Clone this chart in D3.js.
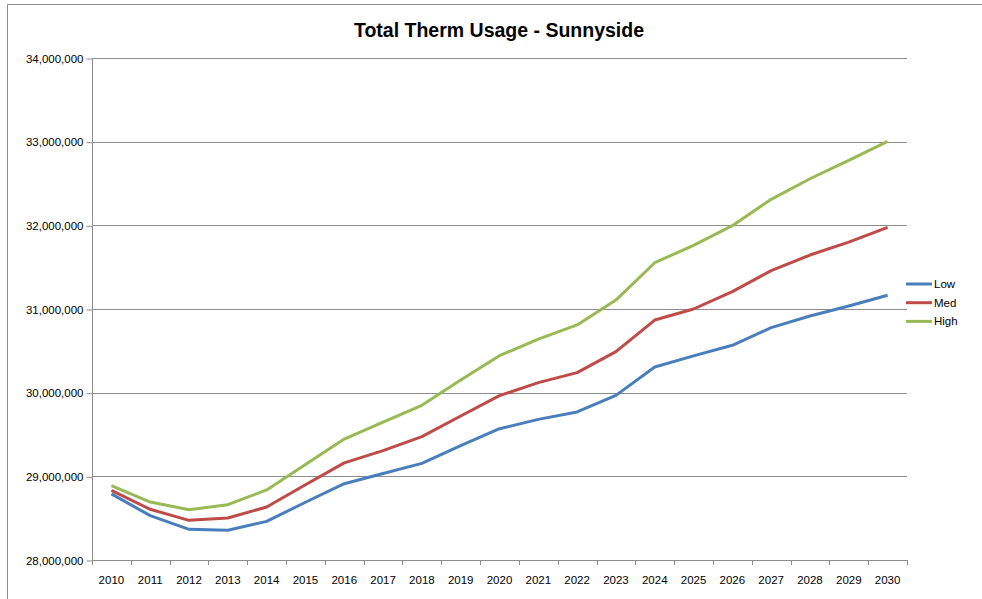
<!DOCTYPE html>
<html><head><meta charset="utf-8">
<script src="https://cdn.jsdelivr.net/npm/d3@7"></script>
<style>body{margin:0;background:#fff}svg{display:block}</style>
</head><body><svg id="c" width="982" height="599"></svg>
<script>
const years = ["2010","2011","2012","2013","2014","2015","2016","2017","2018","2019","2020","2021","2022","2023","2024","2025","2026","2027","2028","2029","2030"];
const low  = [28790000,28530000,28367000,28355000,28462000,28690000,28912000,29034000,29155000,29366000,29569000,29681000,29769000,29968000,30306000,30440000,30566000,30777000,30916000,31036000,31164000];
const med  = [28833000,28606000,28474000,28502000,28633000,28900000,29161000,29307000,29474000,29721000,29964000,30120000,30239000,30490000,30868000,31000000,31207000,31458000,31645000,31800000,31976000];
const high = [28888000,28693000,28601000,28661000,28837000,29142000,29446000,29649000,29849000,30151000,30442000,30641000,30810000,31107000,31553000,31761000,31996000,32311000,32557000,32777000,33004000];
const seriesNames = ["Low","Med","High"];
const seriesColors = ["#4a7ebb","#be4b48","#98b954"];
const yTicks = [28000000,29000000,30000000,31000000,32000000,33000000,34000000];

const svg = d3.select("#c");
const font = "'Liberation Sans', Arial, sans-serif";
const L = 92, R = 907, T = 58, B = 560;

// outer chart border (left and top visible)
svg.append("path").attr("d","M7.5,620 V4.5 H990").attr("fill","none").attr("stroke","#8c8c8c").attr("stroke-width",1);

svg.append("text").attr("x",499).attr("y",37).attr("text-anchor","middle")
  .attr("font-family",font).attr("font-weight","bold").attr("font-size",19.5).attr("fill","#000")
  .text("Total Therm Usage - Sunnyside");

const x = d3.scaleBand().domain(years).range([L,R]);
const y = d3.scaleLinear().domain([28000000,34000000]).range([B,T]);

// gridlines
svg.append("g").selectAll("line").data(yTicks.slice(1)).join("line")
  .attr("x1",L).attr("x2",R).attr("y1",d=>Math.round(y(d))+0.5).attr("y2",d=>Math.round(y(d))+0.5)
  .attr("stroke","#8c8c8c").attr("stroke-width",1);

// y axis
const yAxis = svg.append("g").attr("transform",`translate(${L+0.5},0.5)`)
  .call(d3.axisLeft(y).tickValues(yTicks).tickFormat(d3.format(",")).tickSize(6).tickPadding(3));
yAxis.select(".domain").attr("stroke","#8c8c8c").attr("d",`M0,${y(28000000)}V${y(34000000)}`);
yAxis.selectAll(".tick line").attr("stroke","#8c8c8c");
yAxis.selectAll("text").attr("font-family",font).attr("font-size",11.5).attr("fill","#000");

// x axis
const xAxis = svg.append("g").attr("transform",`translate(0,${B+0.5})`)
  .call(d3.axisBottom(x).tickSize(0).tickPadding(15));
xAxis.select(".domain").attr("stroke","#8c8c8c").attr("d",`M${L},0H${R}`);
xAxis.selectAll("text").attr("font-family",font).attr("font-size",11.5).attr("fill","#000");
const edges = years.map(d=>x(d)).concat([R]);
svg.append("g").selectAll("line").data(edges).join("line")
  .attr("x1",d=>Math.round(d)+0.5).attr("x2",d=>Math.round(d)+0.5).attr("y1",B).attr("y2",B+5)
  .attr("stroke","#8c8c8c");

const data = [low,med,high];
const line = d3.line().x((d,i)=>x(years[i])+x.bandwidth()/2).y(d=>y(d));
svg.append("g").selectAll("path").data(data).join("path")
  .attr("d",line).attr("fill","none").attr("stroke",(d,i)=>seriesColors[i])
  .attr("stroke-width",3).attr("stroke-linejoin","round");

// legend
const lg = svg.append("g").selectAll("g").data(seriesNames).join("g")
  .attr("transform",(d,i)=>`translate(906,${284+i*18.7})`);
lg.append("line").attr("x1",0).attr("x2",26).attr("stroke",(d,i)=>seriesColors[i]).attr("stroke-width",3);
lg.append("text").attr("x",28).attr("y",4).attr("font-family",font).attr("font-size",11.5).attr("fill","#000").text(d=>d);
</script></body></html>
